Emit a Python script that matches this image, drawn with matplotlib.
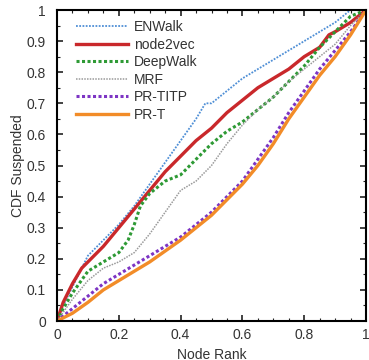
import numpy as np
import matplotlib
matplotlib.use("Agg")
import matplotlib.pyplot as plt
from matplotlib.ticker import MultipleLocator

plt.rcParams['font.family'] = ['Liberation Sans', 'DejaVu Sans']

labels = ["ENWalk", "node2vec", "DeepWalk", "MRF", "PR-TITP", "PR-T"]

enwalk_x = [0, 0.02, 0.05, 0.08, 0.1, 0.15, 0.2, 0.25, 0.3, 0.35, 0.4, 0.45, 0.48, 0.5,
            0.55, 0.6, 0.65, 0.7, 0.75, 0.8, 0.85, 0.9, 0.95, 1.0]
enwalk_y = [0, 0.05, 0.11, 0.17, 0.21, 0.26, 0.31, 0.37, 0.44, 0.51, 0.58, 0.65, 0.70, 0.70,
            0.74, 0.78, 0.81, 0.84, 0.87, 0.90, 0.93, 0.96, 1.0, 1.0]

n2v_x = [0, 0.02, 0.05, 0.08, 0.1, 0.15, 0.2, 0.25, 0.3, 0.35, 0.4, 0.45, 0.5, 0.55, 0.6,
         0.65, 0.7, 0.75, 0.8, 0.85, 0.88, 0.9, 0.95, 1.0]
n2v_y = [0, 0.06, 0.12, 0.17, 0.19, 0.24, 0.30, 0.36, 0.42, 0.48, 0.53, 0.58, 0.62, 0.67, 0.71,
         0.75, 0.78, 0.81, 0.85, 0.88, 0.92, 0.93, 0.96, 1.0]

dw_x = [0, 0.02, 0.05, 0.1, 0.15, 0.2, 0.23, 0.25, 0.27, 0.3, 0.35, 0.4, 0.45, 0.5, 0.55,
        0.6, 0.65, 0.7, 0.75, 0.8, 0.85, 0.9, 0.95, 1.0]
dw_y = [0, 0.04, 0.09, 0.16, 0.19, 0.22, 0.26, 0.31, 0.37, 0.41, 0.45, 0.47, 0.52, 0.57, 0.61,
        0.64, 0.68, 0.72, 0.77, 0.82, 0.88, 0.93, 0.98, 1.0]

grid_x = [0, 0.05, 0.1, 0.15, 0.2, 0.25, 0.3, 0.35, 0.4, 0.45, 0.5, 0.55, 0.6, 0.65, 0.7,
          0.75, 0.8, 0.85, 0.9, 0.95, 1.0]
mrf_y = [0, 0.07, 0.13, 0.17, 0.19, 0.22, 0.28, 0.35, 0.42, 0.45, 0.50, 0.57, 0.63, 0.68, 0.72,
         0.77, 0.81, 0.85, 0.89, 0.95, 1.0]
titp_y = [0, 0.04, 0.08, 0.12, 0.15, 0.18, 0.21, 0.24, 0.27, 0.31, 0.35, 0.40, 0.45, 0.52, 0.59,
          0.67, 0.74, 0.81, 0.87, 0.93, 1.0]
prt_y = [0, 0.025, 0.06, 0.10, 0.13, 0.16, 0.19, 0.225, 0.26, 0.30, 0.34, 0.39, 0.44, 0.50, 0.57,
         0.65, 0.72, 0.79, 0.85, 0.92, 1.0]

fig = plt.figure(figsize=(3.69, 3.6), dpi=100)
ax = fig.add_axes([0.1545, 0.1083, 0.8374, 0.8639])

ax.plot(enwalk_x, enwalk_y, color='#4f8fd6', lw=1.3, ls=(0, (1, 0.8)), label=labels[0])
ax.plot(n2v_x, n2v_y, color='#c9282b', lw=2.4, label=labels[1])
ax.plot(dw_x, dw_y, color='#2e9a35', lw=2.2, ls=(0, (1, 0.8)), label=labels[2])
ax.plot(grid_x, mrf_y, color='#9a9a9a', lw=1.1, ls=(0, (1, 0.8)), label=labels[3])
ax.plot(grid_x, titp_y, color='#7d35c4', lw=2.2, ls=(0, (1, 0.8)), label=labels[4])
ax.plot(grid_x, prt_y, color='#f28c28', lw=2.4, label=labels[5])

ax.set_xlim(0, 1)
ax.set_ylim(0, 1)
ax.xaxis.set_major_locator(MultipleLocator(0.2))
ax.xaxis.set_minor_locator(MultipleLocator(0.05))
ax.yaxis.set_major_locator(MultipleLocator(0.1))
ax.yaxis.set_minor_locator(MultipleLocator(0.05))
ax.xaxis.set_major_formatter(plt.FuncFormatter(lambda v, p: '%g' % round(v, 2)))
ax.yaxis.set_major_formatter(plt.FuncFormatter(lambda v, p: '%g' % round(v, 2)))
ax.tick_params(which='both', direction='in', top=True, right=True, labelsize=10,
               color='#222222', labelcolor='#333333')
ax.tick_params(which='major', length=4, width=1.2)
ax.tick_params(which='minor', length=2, width=0.8)
ax.tick_params(axis='x', which='major', pad=5)
ax.tick_params(axis='y', which='major', pad=8)
for s in ax.spines.values():
    s.set_linewidth(1.5)

ax.set_xlabel("Node Rank", fontsize=10, labelpad=4, color='#333333')
ax.set_ylabel("CDF Suspended", fontsize=10, labelpad=1, color='#333333')

ax.legend(loc='upper left', frameon=False, fontsize=10, handlelength=3.7,
          labelspacing=0.25, borderaxespad=0.0, handletextpad=0.45,
          bbox_to_anchor=(0.045, 0.985), labelcolor='#333333')

fig.savefig("out.png", dpi=100)
